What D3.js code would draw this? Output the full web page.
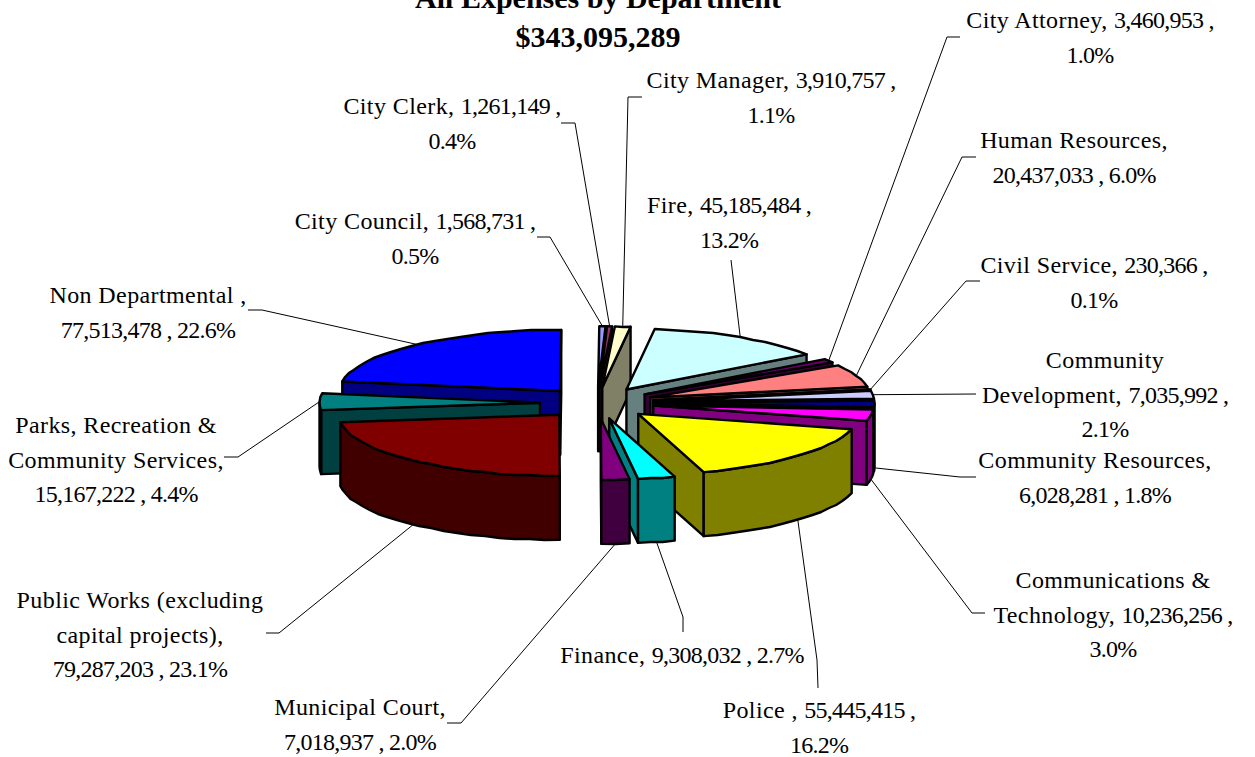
<!DOCTYPE html>
<html><head><meta charset="utf-8">
<script src="https://cdnjs.cloudflare.com/ajax/libs/d3/7.8.5/d3.min.js"></script>
<style>html,body{margin:0;padding:0;background:#fff;overflow:hidden}svg{display:block}</style>
</head><body><div id="chart"></div>
<script>
const categories = ["City Council","City Clerk","City Manager","Fire","City Attorney","Human Resources","Civil Service","Community Development","Community Resources","Communications & Technology","Police","Finance","Municipal Court","Public Works (excluding capital projects)","Parks, Recreation & Community Services","Non Departmental"];
const values = [1568731,1261149,3910757,45185484,3460953,20437033,230366,7035992,6028281,10236256,55445415,9308032,7018937,79287203,15167222,77513478];
const colors = ["#9999FF","#993366","#FFFFCC","#CCFFFF","#660066","#FF8080","#0066CC","#CCCCFF","#000080","#FF00FF","#FFFF00","#00FFFF","#800080","#800000","#008080","#0000FF"];
const labelLines = [
 ["City Council, 1,568,731 ,","0.5%"],
 ["City Clerk, 1,261,149 ,","0.4%"],
 ["City Manager, 3,910,757 ,","1.1%"],
 ["Fire, 45,185,484 ,","13.2%"],
 ["City Attorney, 3,460,953 ,","1.0%"],
 ["Human Resources,","20,437,033 , 6.0%"],
 ["Civil Service, 230,366 ,","0.1%"],
 ["Community","Development, 7,035,992 ,","2.1%"],
 ["Community Resources,","6,028,281 , 1.8%"],
 ["Communications &","Technology, 10,236,256 ,","3.0%"],
 ["Police , 55,445,415 ,","16.2%"],
 ["Finance, 9,308,032 , 2.7%"],
 ["Municipal Court,","7,018,937 , 2.0%"],
 ["Public Works (excluding","capital projects),","79,287,203 , 23.1%"],
 ["Parks, Recreation &","Community Services,","15,167,222 , 4.4%"],
 ["Non Departmental ,","77,513,478 , 22.6%"]
];
// label centre x and first baseline y
const labelX = [415,452,771,729,1090,1074,1094,1105,1095,1113,819,682,360,140,116,148];
const labelY = [229,114,88,213,28,148,273,368,468,588,718,663,715,608,433,303];
const lineStep = 34.5;
// leader line bend points, from the label towards the slice
const leaderBends = [
 [[537,237],[550,237]],[[561,123],[575,123]],[[642,97],[628,97]],[[731,260]],
 [[960,37],[947,37]],[[976,157],[962,157]],[[980,281],[966,281]],[[976,394]],
 [[976,477],[960,477]],[[985,613],[972,613]],[[818,688],[817,660]],[[683,632],[683,617]],
 [[447,723],[461,723]],[[266,633],[279,633]],[[224,457],[238,457]],[[248,310],[262,310]]
];
const titleLines = ["All Expenses by Department","$343,095,289"];

const W=1255,H=757,cx=597,cy=403,R=220.5,Ry=61,depth=64,explode=57/220.5;
const x=d3.scaleLinear().domain([-1,1]).range([cx-R,cx+R]);
const y=d3.scaleLinear().domain([-1,1]).range([cy+Ry,cy-Ry]);
const rad=Math.PI/180;
const svg=d3.select("#chart").append("svg").attr("width",W).attr("height",H).attr("viewBox",[0,0,W,H]);
const pie=d3.pie().sort(null).startAngle(0.3*rad).endAngle(360.3*rad);
const arcs=pie(values).map((a,i)=>{
  const mid=(a.startAngle+a.endAngle)/2;
  return {i,t0:a.startAngle,t1:a.endAngle,mid,ux:explode*Math.sin(mid),uy:explode*Math.cos(mid)};
});
const pt=(a,t,r=1)=>[x(a.ux+r*Math.sin(t)),y(a.uy+r*Math.cos(t))];
const down=p=>[p[0],p[1]+depth];
const arcPts=(a,t0,t1)=>{
  const n=Math.max(1,Math.ceil((t1-t0)/(4*rad)));
  return d3.range(n+1).map(k=>{
    const p=pt(a,t0+(t1-t0)*k/n);
    return [p[0],(k===0||k===n)?p[1]:Math.round(p[1])];
  });
};
const line=d3.line();
const gPie=svg.append("g");
const order=arcs.slice().sort((a,b)=>Math.cos(b.mid)-Math.cos(a.mid));
order.forEach(a=>{
  const g=gPie.append("g");
  const top=d3.color(colors[a.i]);
  const dark=d3.rgb(top.r/2,top.g/2,top.b/2).formatHex();
  const apex=pt(a,0,0);
  const wall=(t)=>{
    const e=pt(a,t);
    g.append("path").attr("d",line([apex,e,down(e),down(apex)])+"Z");
  };
  if(Math.sin(a.t0)<0) wall(a.t0);
  if(Math.sin(a.t1)>0) wall(a.t1);
  const s=Math.max(a.t0,90*rad),e=Math.min(a.t1,270*rad);
  if(e>s){
    const pts=arcPts(a,s,e);
    g.append("path").attr("d",line(pts.concat(pts.map(down).reverse()))+"Z");
  }
  g.selectAll("path").attr("fill",dark);
  g.append("path").attr("d",line([apex].concat(arcPts(a,a.t0,a.t1)))+"Z").attr("fill",colors[a.i]);
  g.selectAll("path").attr("stroke","#000").attr("stroke-width",2.4).attr("stroke-linejoin","round");
});
// leaders
const gLead=svg.append("g");
arcs.forEach(a=>{
  let p=pt(a,a.mid);
  if(Math.cos(a.mid)<0) p=down(p);
  gLead.append("path").attr("d",line(leaderBends[a.i].concat([p]))).attr("fill","none").attr("stroke","#000").attr("stroke-width",1);
});
// labels: number runs are set tighter than word runs
const font='"Liberation Serif","Times New Roman",serif';
labelLines.forEach((ls,i)=>{
  ls.forEach((t,j)=>{
    const el=svg.append("text").attr("x",labelX[i]).attr("y",labelY[i]+j*lineStep)
      .attr("text-anchor","middle").attr("font-family",font).attr("font-size",24).attr("fill","#000");
    t.split(/([\d][\d,.% ]*)/).filter(s=>s.length).forEach(run=>{
      el.append("tspan").attr("letter-spacing",/^\d/.test(run)?-0.75:0.4).text(run);
    });
  });
});
titleLines.forEach((t,j)=>{
  svg.append("text").attr("x",598).attr("y",[8,47][j])
    .attr("text-anchor","middle").attr("font-family",font).attr("font-weight","bold").attr("font-size",30).attr("fill","#000").text(t);
});
</script></body></html>
